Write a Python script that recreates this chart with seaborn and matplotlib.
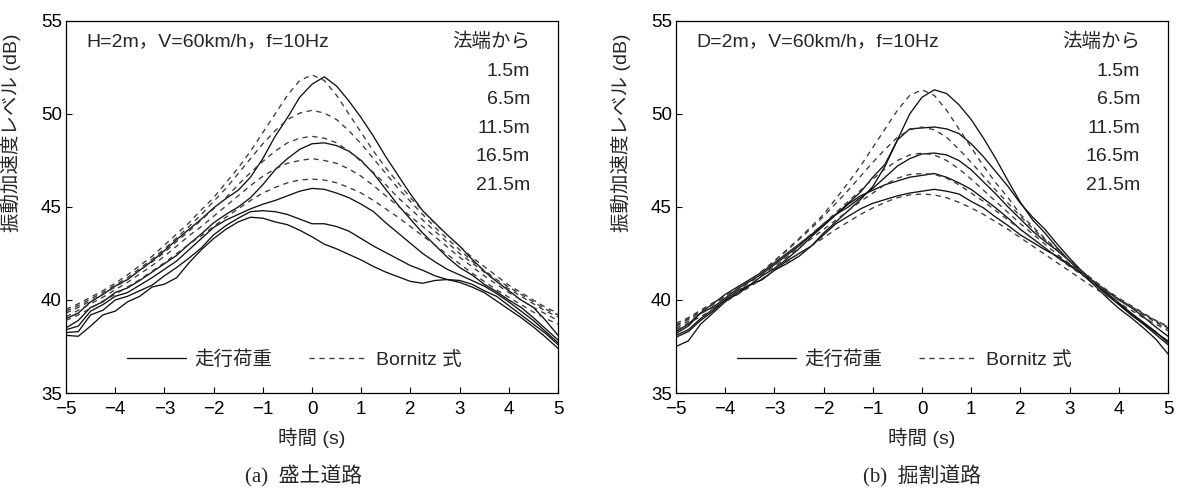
import numpy as np
import pandas as pd
import seaborn as sns
import matplotlib
matplotlib.use('Agg')
import matplotlib.pyplot as plt
from matplotlib.lines import Line2D

# time axis (s) and distances from the slope end
t = np.linspace(-5, 5, 41)
dists = ['1.5m', '6.5m', '11.5m', '16.5m', '21.5m']

# (a) embankment road - running load (solid)
emb_run_1 = [39.0, 39.3, 39.9, 40.3, 40.75, 41.1, 41.6, 42.1, 42.65, 43.25, 43.8, 44.35, 44.95, 45.45, 45.9, 46.6, 47.6, 48.8, 49.8, 50.9,
             51.6,
             52.0, 51.5, 50.7, 49.8, 48.8, 47.7, 46.7, 45.7, 44.8, 44.15, 43.5, 42.9, 42.2, 41.55, 41.0, 40.5, 40.0, 39.6, 38.9, 38.1]
emb_run_2 = [38.5, 38.9, 39.6, 39.9, 40.4, 40.65, 41.05, 41.5, 41.95, 42.4, 43.0, 43.55, 44.15, 44.6, 45.0, 45.5, 46.2, 47.0, 47.6, 48.1,
             48.4,
             48.45, 48.3, 48.0, 47.5, 46.8, 45.95, 45.1, 44.35, 43.6, 42.95, 42.3, 41.75, 41.35, 40.85, 40.45, 40.0, 39.6, 39.05, 38.45, 37.85]
emb_run_3 = [38.4, 38.6, 39.4, 39.75, 40.2, 40.4, 40.8, 41.2, 41.65, 42.1, 42.7, 43.3, 43.9, 44.3, 44.6, 44.9, 45.15, 45.35, 45.6, 45.85,
             46.0,
             45.95, 45.75, 45.5, 45.15, 44.75, 44.15, 43.6, 43.05, 42.5, 42.05, 41.65, 41.35, 41.05, 40.75, 40.35, 39.9, 39.4, 38.9, 38.3, 37.7]
emb_run_4 = [38.25, 38.3, 39.2, 39.45, 40.0, 40.2, 40.5, 40.8, 41.3, 41.75, 42.25, 42.8, 43.5, 44.0, 44.4, 44.75, 44.8, 44.75, 44.6, 44.35,
             44.1,
             44.1, 43.95, 43.7, 43.3, 42.9, 42.55, 42.2, 41.85, 41.6, 41.3, 41.1, 41.05, 40.85, 40.5, 40.2, 39.7, 39.2, 38.7, 38.2, 37.6]
emb_run_5 = [38.1, 38.05, 38.6, 39.2, 39.4, 39.9, 40.2, 40.7, 40.85, 41.2, 42.0, 42.7, 43.3, 43.8, 44.2, 44.45, 44.4, 44.2, 44.05, 43.75,
             43.4,
             43.0, 42.75, 42.45, 42.15, 41.8, 41.5, 41.25, 41.0, 40.9, 41.05, 41.1, 40.95, 40.7, 40.4, 39.95, 39.5, 39.05, 38.55, 38.0, 37.4]

# (a) embankment road - Bornitz formula (dashed)
emb_bor_1 = [39.5, 39.8, 40.15, 40.5, 40.9, 41.35, 41.85, 42.35, 42.95, 43.55, 44.15, 44.85, 45.5, 46.3, 47.1, 48.0, 49.0, 50.0, 51.0, 51.8,
             52.1,
             51.8, 51.0, 50.0, 49.0, 48.0, 47.1, 46.3, 45.5, 44.8, 44.1, 43.5, 42.9, 42.3, 41.8, 41.3, 40.8, 40.4, 40.0, 39.6, 39.3]
emb_bor_2 = [39.4, 39.7, 40.05, 40.4, 40.8, 41.2, 41.7, 42.2, 42.75, 43.35, 43.95, 44.6, 45.3, 46.0, 46.8, 47.6, 48.4, 49.1, 49.7, 50.05,
             50.2,
             50.05, 49.7, 49.1, 48.4, 47.6, 46.8, 46.0, 45.3, 44.6, 43.9, 43.3, 42.7, 42.1, 41.6, 41.1, 40.7, 40.3, 39.9, 39.5, 39.2]
emb_bor_3 = [39.3, 39.6, 39.95, 40.3, 40.7, 41.1, 41.6, 42.05, 42.55, 43.15, 43.7, 44.3, 44.9, 45.5, 46.2, 46.85, 47.45, 48.0, 48.45, 48.7,
             48.8,
             48.7, 48.45, 48.0, 47.45, 46.85, 46.2, 45.5, 44.9, 44.3, 43.7, 43.1, 42.5, 42.0, 41.5, 41.0, 40.6, 40.2, 39.8, 39.4, 39.1]
emb_bor_4 = [39.1, 39.45, 39.8, 40.15, 40.55, 40.95, 41.4, 41.85, 42.35, 42.9, 43.45, 43.95, 44.5, 45.05, 45.6, 46.15, 46.65, 47.05, 47.35, 47.5,
             47.6,
             47.5, 47.35, 47.05, 46.65, 46.15, 45.6, 45.05, 44.5, 43.95, 43.4, 42.85, 42.3, 41.8, 41.3, 40.85, 40.4, 40.0, 39.6, 39.25, 38.9]
emb_bor_5 = [38.9, 39.2, 39.55, 39.95, 40.3, 40.7, 41.1, 41.55, 42.0, 42.5, 43.0, 43.45, 43.95, 44.45, 44.9, 45.35, 45.75, 46.05, 46.3, 46.45,
             46.5,
             46.45, 46.3, 46.05, 45.75, 45.35, 44.9, 44.45, 43.95, 43.45, 42.95, 42.45, 41.95, 41.45, 41.0, 40.55, 40.15, 39.75, 39.35, 39.0, 38.7]

# (b) cut road - running load (solid)
cut_run_1 = [37.5, 37.8, 38.7, 39.3, 39.9, 40.4, 40.8, 41.1, 41.6, 41.95, 42.35, 42.9, 43.6, 44.2, 44.8, 45.4, 46.1, 47.2, 48.6, 50.0,
             50.9,
             51.3, 51.1, 50.5, 49.7, 48.7, 47.6, 46.4, 45.25, 44.3, 43.6, 42.8, 42.1, 41.4, 40.8, 40.15, 39.55, 39.05, 38.5, 37.9, 37.1]
cut_run_2 = [38.0, 38.3, 38.9, 39.4, 40.0, 40.3, 40.8, 41.3, 41.7, 42.2, 42.75, 43.4, 44.0, 44.6, 45.2, 45.8, 46.6, 47.3, 48.6, 49.2,
             49.25,
             49.3, 49.2, 48.95, 48.4, 47.7, 46.9, 46.1, 45.2, 44.45, 43.8, 43.0, 42.25, 41.55, 40.95, 40.3, 39.8, 39.25, 38.75, 38.25, 37.8]
cut_run_3 = [38.3, 38.7, 39.3, 39.6, 40.1, 40.6, 41.0, 41.4, 41.9, 42.4, 42.9, 43.5, 44.1, 44.6, 45.0, 45.5, 46.0, 46.6, 47.2, 47.6,
             47.85,
             47.9, 47.8, 47.5, 47.0, 46.35, 45.7, 45.0, 44.35, 43.7, 43.15, 42.65, 42.1, 41.55, 40.95, 40.5, 40.0, 39.6, 39.1, 38.55, 38.05]
cut_run_4 = [38.2, 38.6, 39.3, 39.8, 40.3, 40.7, 41.1, 41.5, 42.0, 42.5, 43.0, 43.5, 44.0, 44.6, 45.15, 45.6, 45.9, 46.2, 46.4, 46.6,
             46.7,
             46.8, 46.6, 46.3, 45.95, 45.45, 44.95, 44.4, 43.8, 43.3, 42.8, 42.3, 41.85, 41.4, 40.9, 40.3, 39.75, 39.2, 38.7, 38.15, 37.6]
cut_run_5 = [38.1, 38.4, 39.0, 39.5, 40.0, 40.5, 40.8, 41.1, 41.6, 42.1, 42.5, 42.9, 43.5, 44.1, 44.5, 44.9, 45.2, 45.4, 45.6, 45.75,
             45.85,
             45.95, 45.85, 45.7, 45.3, 44.95, 44.45, 44.0, 43.5, 43.1, 42.7, 42.35, 41.9, 41.45, 40.95, 40.4, 39.85, 39.3, 38.8, 38.3, 37.7]

# (b) cut road - Bornitz formula (dashed)
cut_bor_1 = [38.75, 39.05, 39.45, 39.85, 40.2, 40.6, 41.05, 41.55, 42.1, 42.7, 43.3, 43.95, 44.6, 45.45, 46.3, 47.2, 48.2, 49.2, 50.2, 51.0,
             51.3,
             51.0, 50.2, 49.2, 48.2, 47.2, 46.3, 45.5, 44.6, 43.95, 43.3, 42.7, 42.1, 41.55, 41.0, 40.5, 40.05, 39.65, 39.25, 38.9, 38.6]
cut_bor_2 = [38.65, 39.0, 39.4, 39.8, 40.2, 40.6, 41.05, 41.55, 42.1, 42.65, 43.25, 43.85, 44.5, 45.2, 45.9, 46.65, 47.4, 48.1, 48.75, 49.15,
             49.3,
             49.15, 48.75, 48.1, 47.4, 46.65, 45.9, 45.2, 44.5, 43.85, 43.25, 42.65, 42.1, 41.55, 41.05, 40.55, 40.1, 39.7, 39.3, 38.9, 38.55]
cut_bor_3 = [38.6, 38.95, 39.35, 39.75, 40.15, 40.55, 41.0, 41.45, 41.95, 42.45, 43.0, 43.55, 44.1, 44.7, 45.3, 45.9, 46.5, 47.05, 47.5, 47.8,
             47.9,
             47.8, 47.5, 47.05, 46.5, 45.9, 45.3, 44.7, 44.1, 43.55, 43.0, 42.45, 41.95, 41.45, 40.95, 40.5, 40.05, 39.65, 39.25, 38.85, 38.5]
cut_bor_4 = [38.5, 38.85, 39.25, 39.65, 40.05, 40.5, 40.95, 41.35, 41.8, 42.3, 42.8, 43.3, 43.8, 44.3, 44.8, 45.3, 45.75, 46.2, 46.55, 46.75,
             46.8,
             46.75, 46.55, 46.2, 45.75, 45.3, 44.8, 44.3, 43.8, 43.3, 42.8, 42.3, 41.8, 41.35, 40.9, 40.45, 40.0, 39.6, 39.2, 38.8, 38.45]
cut_bor_5 = [38.4, 38.75, 39.1, 39.5, 39.9, 40.3, 40.7, 41.15, 41.6, 42.05, 42.5, 42.9, 43.35, 43.8, 44.2, 44.6, 44.95, 45.25, 45.5, 45.65,
             45.7,
             45.65, 45.5, 45.25, 44.95, 44.6, 44.2, 43.8, 43.35, 42.9, 42.45, 42.0, 41.55, 41.1, 40.65, 40.25, 39.85, 39.45, 39.05, 38.7, 38.35]

RUN = '走行荷重'
BOR = 'Bornitz 式'


def long_frame(runs, bors):
    parts = []
    for d, s, b in zip(dists, runs, bors):
        assert len(s) == len(t) and len(b) == len(t)
        parts.append(pd.DataFrame({'t': t, 'dB': s, 'kind': RUN, 'dist': d}))
        parts.append(pd.DataFrame({'t': t, 'dB': b, 'kind': BOR, 'dist': d}))
    return pd.concat(parts, ignore_index=True)


emb = long_frame([emb_run_1, emb_run_2, emb_run_3, emb_run_4, emb_run_5],
                 [emb_bor_1, emb_bor_2, emb_bor_3, emb_bor_4, emb_bor_5])
cut = long_frame([cut_run_1, cut_run_2, cut_run_3, cut_run_4, cut_run_5],
                 [cut_bor_1, cut_bor_2, cut_bor_3, cut_bor_4, cut_bor_5])

sns.set_theme(style='ticks')
plt.rcParams['font.family'] = ['Liberation Sans', 'Noto Sans CJK JP']
plt.rcParams['axes.unicode_minus'] = True

pal = {RUN: '#111111', BOR: '#3a3a3a'}
dash_map = {RUN: '', BOR: (4, 3.5)}
FS_TICK = 13.5
FS = 14

fig = plt.figure(figsize=(11.83, 4.91), dpi=100)
W, H = 1183, 491
ax_a = fig.add_axes([66 / W, 1 - 393 / H, 492 / W, 372 / H])
ax_b = fig.add_axes([676 / W, 1 - 393 / H, 492 / W, 372 / H])

panels = [
    (ax_a, emb, 'H=2m，V=60km/h，f=10Hz', '(a)', '盛土道路', -8),
    (ax_b, cut, 'D=2m，V=60km/h，f=10Hz', '(b)', '掘割道路', 0),
]

for ax, df, cond, tag, cap, cap_shift in panels:
    sns.lineplot(data=df, x='t', y='dB', hue='kind', style='kind', units='dist',
                 estimator=None, sort=False, palette=pal, dashes=dash_map,
                 linewidth=0.95, legend=False, ax=ax)
    ax.set_xlim(-5, 5)
    ax.set_ylim(35, 55)
    ax.set_xticks(range(-5, 6))
    ax.set_yticks([35, 40, 45, 50, 55])
    ax.tick_params(direction='in', length=4, width=0.8, labelsize=FS_TICK,
                   colors='black')
    ax.tick_params(axis='x', pad=6)
    ax.tick_params(axis='y', pad=3)
    for sp in ax.spines.values():
        sp.set_visible(True)
        sp.set_color('black')
        sp.set_linewidth(0.9)
    ax.set_xlabel('時間 (s)', fontsize=FS)
    ax.xaxis.set_label_coords(0.5, -0.094)
    ax.set_ylabel('振動加速度レベル (dB)', fontsize=FS)
    ax.yaxis.set_label_coords(-0.092, 0.70)

    ax.text(0.041, 0.944, cond, transform=ax.transAxes, fontsize=FS,
            ha='left', va='center')
    ax.text(0.943, 0.944, '法端から', transform=ax.transAxes, fontsize=FS,
            ha='right', va='center')
    for d, yy in zip(dists, [0.864, 0.788, 0.712, 0.635, 0.559]):
        ax.text(0.943, yy, d, transform=ax.transAxes, fontsize=FS,
                ha='right', va='center')

    handles = [Line2D([], [], color=pal[RUN], lw=0.95),
               Line2D([], [], color=pal[BOR], lw=0.95, dashes=dash_map[BOR])]
    ax.legend(handles, [RUN, BOR], loc='center', bbox_to_anchor=(0.465, 0.089),
              ncol=2, frameon=False, fontsize=FS, handlelength=3.0,
              handletextpad=0.45, columnspacing=1.9)

    pos = ax.get_position()
    cx = (pos.x0 + pos.x1) / 2 + cap_shift / W
    fig.text(cx, 1 - 476 / H, tag + '  ' + cap, ha='center', va='center',
             fontsize=15, family=['Liberation Serif', 'Noto Sans CJK JP'])

fig.savefig('out.png', dpi=100)
